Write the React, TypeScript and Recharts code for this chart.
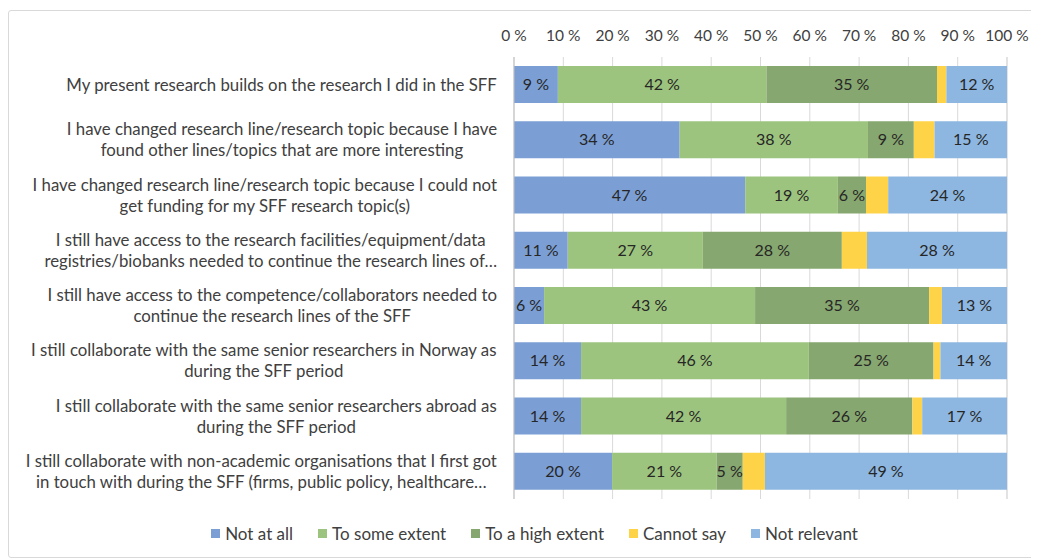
import React from 'react';
import { BarChart, Bar, XAxis, YAxis, CartesianGrid, Legend, LabelList } from 'recharts';

const categories = [
  'My present research builds on the research I did in the SFF',
  'I have changed research line/research topic because I have\nfound other lines/topics that are more interesting',
  'I have changed research line/research topic because I could not\nget funding for my SFF research topic(s)',
  'I still have access to the research facilities/equipment/data\nregistries/biobanks needed to continue the research lines of…',
  'I still have access to the competence/collaborators needed to\ncontinue the research lines of the SFF',
  'I still collaborate with the same senior researchers in Norway as\nduring the SFF period',
  'I still collaborate with the same senior researchers abroad as\nduring the SFF period',
  'I still collaborate with non-academic organisations that I first got\nin touch with during the SFF (firms, public policy, healthcare…',
];

const notAtAll = [8.9, 33.6, 46.9, 10.9, 6.1, 13.6, 13.6, 19.9];
const someExtent = [42.3, 38.2, 18.8, 27.4, 42.8, 46.2, 41.6, 21.2];
const highExtent = [34.6, 9.3, 5.7, 28.2, 35.3, 25.3, 25.6, 5.3];
const cannotSay = [1.9, 4.2, 4.5, 5.1, 2.6, 1.4, 2.0, 4.5];
const notRelevant = [12.3, 14.7, 24.1, 28.4, 13.2, 13.5, 17.2, 49.1];

const ticks = [0, 10, 20, 30, 40, 50, 60, 70, 80, 90, 100];

const series = [
  { key: 'notAtAll', name: 'Not at all', color: '#7B9FD5', label: true },
  { key: 'someExtent', name: 'To some extent', color: '#9DC47E', label: true },
  { key: 'highExtent', name: 'To a high extent', color: '#86A76F', label: true },
  { key: 'cannotSay', name: 'Cannot say', color: '#FFD348', label: false },
  { key: 'notRelevant', name: 'Not relevant', color: '#8DB7E1', label: true },
];

const data = categories.map((name, i) => ({
  name,
  notAtAll: notAtAll[i],
  someExtent: someExtent[i],
  highExtent: highExtent[i],
  cannotSay: cannotSay[i],
  notRelevant: notRelevant[i],
}));

const FONT = 'Lato, "Noto Sans", sans-serif';
const CAT_SIZE = 16.8;

// measure text so wrapped labels can be centred inside a right-aligned block, like Excel does
let ctx: CanvasRenderingContext2D | null = null;
const measure = (s: string) => {
  if (!ctx) ctx = document.createElement('canvas').getContext('2d');
  if (!ctx) return s.length * 7;
  ctx.font = `${CAT_SIZE}px Lato`;
  return ctx.measureText(s).width;
};

const CategoryTick = (props: any) => {
  const { x, y, payload } = props;
  const lines = String(payload.value).split('\n');
  const lh = 21;
  const right = x - 17;
  const blockW = Math.max(...lines.map(measure));
  const cx = right - blockW / 2;
  const start = y + 6 - ((lines.length - 1) * lh) / 2;
  return (
    <text x={cx} y={start} textAnchor="middle" fill="#404040" fontSize={CAT_SIZE} fontFamily={FONT}>
      {lines.map((l, i) => (
        <tspan key={i} x={cx} y={start + i * lh}>
          {l}
        </tspan>
      ))}
    </text>
  );
};

const LegendContent = () => (
  <div
    style={{
      display: 'flex',
      justifyContent: 'center',
      gap: 25,
      paddingLeft: 22,
      fontFamily: FONT,
      fontSize: 17,
      color: '#404040',
    }}
  >
    {series.map((s) => (
      <div key={s.key} style={{ display: 'flex', alignItems: 'center' }}>
        <span style={{ width: 9, height: 9, background: s.color, display: 'inline-block', marginRight: 5 }} />
        <span>{s.name}</span>
      </div>
    ))}
  </div>
);

export default function App() {
  return (
    <div
      style={{
        width: 1029,
        height: 546,
        marginTop: 2,
        border: '1px solid #d9d9d9',
        borderRadius: 3,
        background: '#fff',
      }}
    >
      <BarChart
        width={1029}
        height={546}
        data={data}
        layout="vertical"
        barSize={37}
        margin={{ top: 0, right: 31, bottom: 58, left: 0 }}
      >
        <CartesianGrid horizontal={false} stroke="#d9d9d9" />
        <XAxis
          type="number"
          orientation="top"
          domain={[0, 100]}
          ticks={ticks}
          tickFormatter={(v) => `${v} %`}
          axisLine={false}
          tickLine={false}
          tickSize={0}
          tickMargin={16}
          height={46}
          tick={{ fill: '#404040', fontSize: 15.5, fontFamily: FONT }}
        />
        <YAxis
          type="category"
          dataKey="name"
          width={505}
          tickLine={false}
          tickSize={0}
          tickMargin={0}
          axisLine={{ stroke: '#bfbfbf' }}
          tick={<CategoryTick />}
          interval={0}
        />
        {series.map((s) => (
          <Bar key={s.key} dataKey={s.key} name={s.name} stackId="a" fill={s.color} isAnimationActive={false}>
            {s.label && (
              <LabelList
                dataKey={s.key}
                position="center"
                formatter={(v: any) => `${Math.round(Number(v))} %`}
                fill="#262626"
                fontSize={16}
                fontFamily={FONT}
              />
            )}
          </Bar>
        ))}
        <Legend
          verticalAlign="middle"
          layout="horizontal"
          content={<LegendContent />}
          wrapperStyle={{ top: 512, left: 0, width: 1029 }}
        />
      </BarChart>
    </div>
  );
}
